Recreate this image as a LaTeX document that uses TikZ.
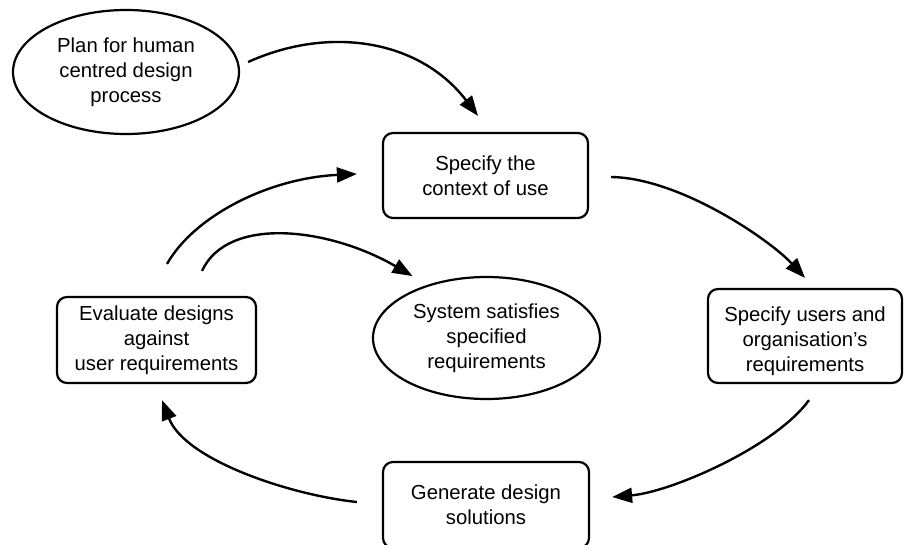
\documentclass[tikz,border=0pt]{standalone}
\usepackage{fontspec}
\setmainfont{Liberation Sans}
\usetikzlibrary{arrows.meta,shapes.geometric}
\begin{document}
\begin{tikzpicture}[x=1pt,y=-1pt,
  every node/.style={font=\fontsize{20.3}{25}\selectfont, align=center, text=black},
  stage/.style={draw, line width=2.2pt, rounded corners=10pt, fill=white, inner sep=0pt},
  goal/.style={draw, ellipse, line width=2.2pt, fill=white, inner sep=0pt},
  flow/.style={line width=2.4pt, -{Triangle[length=20pt,width=15pt]}}]
\useasboundingbox (0,0) rectangle (904,544);

% process stages and outcomes
\node[goal, minimum width=226pt, minimum height=124pt] (plan) at (126,72)
  {Plan for human\\centred design\\process};
\node[stage, minimum width=205pt, minimum height=85pt] (ctx) at (485.5,175.5)
  {Specify the\\context of use};
\node[stage, minimum width=194pt, minimum height=94pt] (users) at (805,336) {};
\node (users-text) at (805,341)
  {Specify users and\\organisation’s\\requirements};
\node[stage, minimum width=206pt, minimum height=86pt] (gen) at (486,505)
  {Generate design\\solutions};
\node[stage, minimum width=199pt, minimum height=86pt] (eval) at (156.5,340)
  {Evaluate designs\\against\\user requirements};
\node[goal, minimum width=227pt, minimum height=122pt] (sys) at (486.5,338)
  {System satisfies\\specified\\requirements};

% cycle of activities
\draw[flow] ([shift={(8,-10)}]plan.east) .. controls (330,25) and (420,40)
  .. ([shift={(-7.5,-16)}]ctx.north);
\draw[flow] ([shift={(22,1.5)}]ctx.east) .. controls (680,178) and (770,240)
  .. ([shift={(0,-10)}]users.north);
\draw[flow] ([shift={(4,16)}]users.south) .. controls (775,447) and (671,492)
  .. ([shift={(22,-8)}]gen.east);
\draw[flow] ([shift={(-25,-3)}]gen.west) .. controls (290,495) and (185,460)
  .. ([shift={(5.5,16)}]eval.south);
\draw[flow] ([shift={(10.5,-32)}]eval.north) .. controls (195,215) and (270,178)
  .. ([shift={(-25,-1.5)}]ctx.west);
\draw[flow] ([shift={(45.5,-25)}]eval.north) .. controls (228,215) and (330,228)
  .. ([shift={(7,-18)}]sys.north west);
\end{tikzpicture}
\end{document}
